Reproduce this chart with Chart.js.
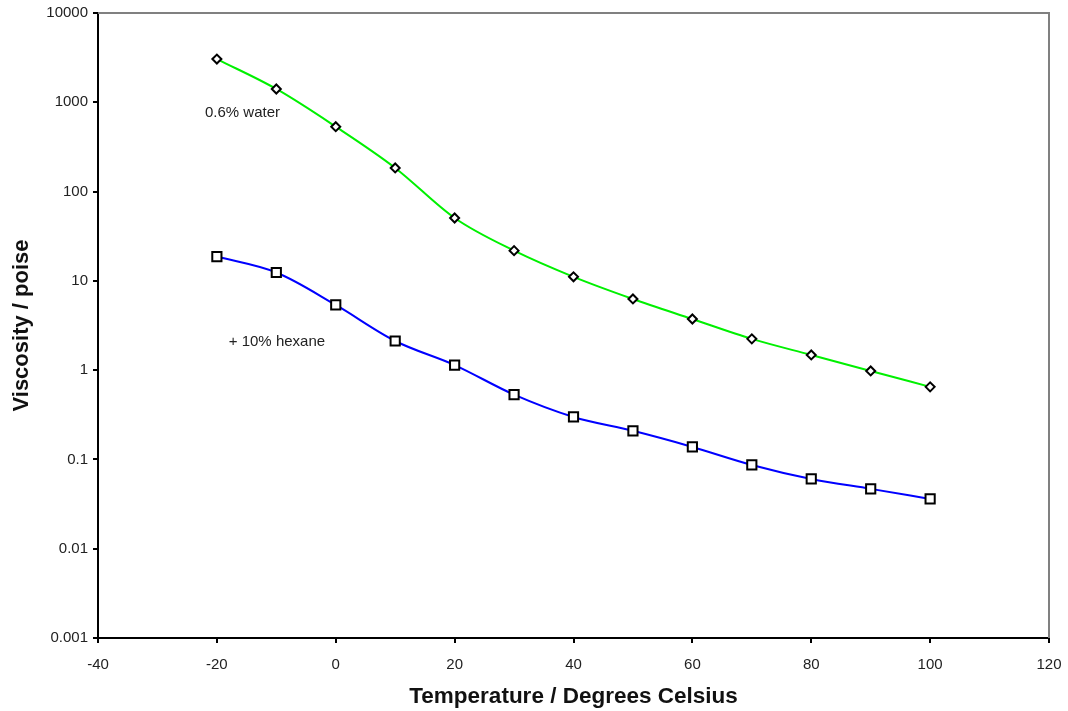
<!DOCTYPE html>
<html lang="en">
<head>
<meta charset="UTF-8" />
<title>Viscosity vs Temperature</title>
<script src="https://cdn.jsdelivr.net/npm/chart.js"></script>
<style>
  html, body { margin: 0; padding: 0; background: #fff; }
  #wrap { width: 1068px; height: 711px; }
</style>
</head>
<body>
<div id="wrap"><canvas id="viscChart" width="1068" height="711"></canvas></div>
<script>
// temperatures (deg C)
const temps = [-20, -10, 0, 10, 20, 30, 40, 50, 60, 70, 80, 90, 100];
// viscosity, poise
const waterVisc = [3050, 1410, 533, 184, 50.6, 21.8, 11.1, 6.27, 3.74, 2.24, 1.48, 0.98, 0.65];
const hexaneVisc = [18.7, 12.4, 5.37, 2.12, 1.14, 0.532, 0.299, 0.209, 0.138, 0.0868, 0.0605, 0.0468, 0.0361];

const yTickValues = [0.001, 0.01, 0.1, 1, 10, 100, 1000, 10000];
const xTickValues = [-40, -20, 0, 20, 40, 60, 80, 100, 120];

// curve labels: [text, x, y] in data units
const curveLabels = [
  ['0.6% water', -22, 760],
  ['+ 10% hexane', -18, 2.07]
];

const FONT = "'Liberation Sans', Arial, sans-serif";

function toPoints(xs, ys) {
  return xs.map((x, i) => ({ x: x, y: ys[i] }));
}

// gray top/right frame + curve labels
const extras = {
  id: 'extras',
  afterDraw(chart) {
    const { ctx, chartArea: a, scales } = chart;
    ctx.save();
    ctx.strokeStyle = '#808080';
    ctx.lineWidth = 2;
    ctx.beginPath();
    ctx.moveTo(a.left, a.top);
    ctx.lineTo(a.right, a.top);
    ctx.lineTo(a.right, a.bottom);
    ctx.stroke();

    ctx.fillStyle = '#222';
    ctx.font = '15px ' + FONT;
    ctx.textAlign = 'left';
    ctx.textBaseline = 'middle';
    curveLabels.forEach(([txt, x, y]) => {
      ctx.fillText(txt, scales.x.getPixelForValue(x), scales.y.getPixelForValue(y));
    });
    ctx.restore();
  }
};

new Chart(document.getElementById('viscChart'), {
  type: 'line',
  data: {
    datasets: [
      {
        label: '0.6% water',
        data: toPoints(temps, waterVisc),
        borderColor: '#00f000',
        borderWidth: 2,
        pointStyle: 'rectRot',
        pointRadius: 4.5,
        pointBorderWidth: 2,
        pointBorderColor: '#000',
        pointBackgroundColor: '#fff',
        cubicInterpolationMode: 'monotone'
      },
      {
        label: '+ 10% hexane',
        data: toPoints(temps, hexaneVisc),
        borderColor: '#0000ff',
        borderWidth: 2,
        pointStyle: 'rect',
        pointRadius: 6.5,
        pointBorderWidth: 2,
        pointBorderColor: '#000',
        pointBackgroundColor: '#fff',
        cubicInterpolationMode: 'monotone'
      }
    ]
  },
  options: {
    responsive: false,
    animation: false,
    layout: { padding: { top: 13, right: 19, left: 0, bottom: 0 } },
    plugins: {
      legend: { display: false },
      tooltip: { enabled: false }
    },
    scales: {
      x: {
        type: 'linear',
        min: -40,
        max: 120,
        afterBuildTicks: s => { s.ticks = xTickValues.map(v => ({ value: v })); },
        afterFit: s => { s.height = 73; s.paddingLeft = 0; s.paddingRight = 0; },
        border: { color: '#000', width: 2 },
        grid: { drawOnChartArea: false, color: '#000', lineWidth: 2, tickLength: 5 },
        ticks: { color: '#222', font: { family: FONT, size: 15 }, padding: 13, maxRotation: 0 },
        title: {
          display: true,
          text: 'Temperature / Degrees Celsius',
          color: '#111',
          font: { family: FONT, size: 22.5, weight: 'bold' },
          padding: { top: 0, bottom: 1 }
        }
      },
      y: {
        type: 'logarithmic',
        min: 0.001,
        max: 10000,
        afterBuildTicks: s => { s.ticks = yTickValues.map(v => ({ value: v })); },
        afterFit: s => { s.width = 98; s.paddingTop = 0; s.paddingBottom = 0; },
        border: { color: '#000', width: 2 },
        grid: { drawOnChartArea: false, color: '#000', lineWidth: 2, tickLength: 5 },
        ticks: {
          color: '#222',
          font: { family: FONT, size: 15 },
          padding: 5,
          callback: v => String(v)
        },
        title: {
          display: true,
          text: 'Viscosity / poise',
          color: '#111',
          font: { family: FONT, size: 22, weight: 'bold' },
          padding: { top: 9, bottom: 0 }
        }
      }
    }
  },
  plugins: [extras]
});
</script>
</body>
</html>
